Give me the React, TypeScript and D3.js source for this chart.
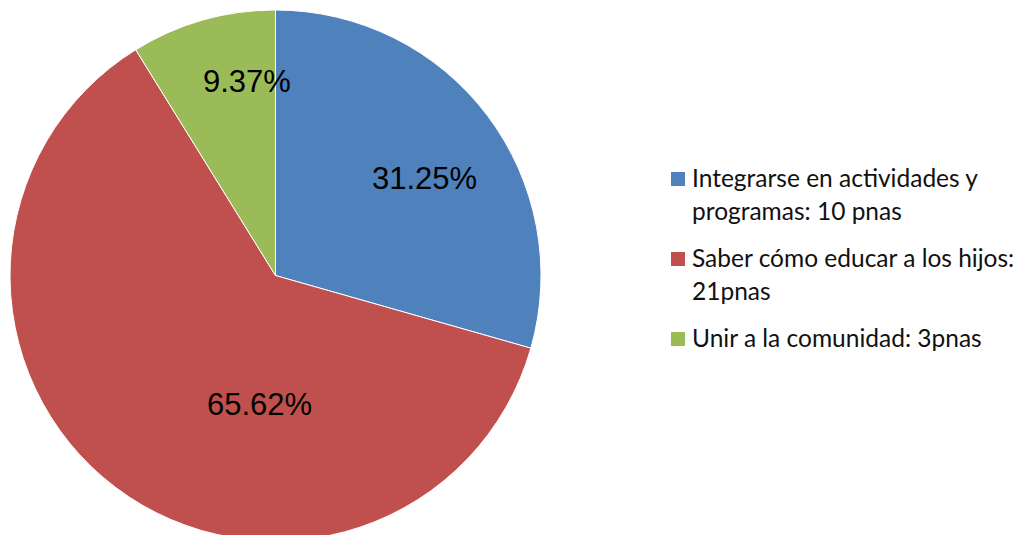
import * as d3 from "d3";
import React from "react";

// categories + values (number of people), and the percentage labels as printed
const categories = ["Integrarse en actividades y programas: 10 pnas", "Saber cómo educar a los hijos: 21pnas", "Unir a la comunidad: 3pnas"];
const legendLines = [
  ["Integrarse en actividades y", "programas: 10 pnas"],
  ["Saber cómo educar a los hijos:", "21pnas"],
  ["Unir a la comunidad: 3pnas"],
];
const values = [10, 21, 3];
const pctLabels = ["31.25%", "65.62%", "9.37%"];
const colors = ["#4F81BD", "#C0504D", "#9BBB59"];

const W = 1030, H = 535;
const cx = 275.5, cy = 275.5, R = 265.5;

// label nudges (Excel "best fit" doesn't sit on the centroid)
const labelPos = [
  { r: 0.67, da: 4 },
  { r: 0.49, da: -30 },
  { r: 0.74, da: 7.5 },
];

export default function App() {
  const pie = d3.pie<number>().sort(null).value((d) => d);
  const arcs = pie(values);
  const arc = d3.arc<d3.PieArcDatum<number>>().innerRadius(0).outerRadius(R);

  const legendX = 671;
  let y = 172;
  const legend = legendLines.map((lines, i) => {
    const top = y;
    y += lines.length * 33 + 14;
    return { lines, top, i };
  });

  return (
    <div style={{ position: "fixed", left: 0, top: 0 }}>
      <svg width={W} height={H} viewBox={`0 0 ${W} ${H}`} style={{ display: "block", background: "#fff" }}>
        <g transform={`translate(${cx},${cy})`}>
          {arcs.map((a, i) => (
            <path key={categories[i]} d={arc(a) || ""} fill={colors[i]} stroke="#fff" strokeWidth={1} />
          ))}
          {arcs.map((a, i) => {
            const mid = (a.startAngle + a.endAngle) / 2 + (labelPos[i].da * Math.PI) / 180;
            const r = R * labelPos[i].r;
            return (
              <text
                key={pctLabels[i]}
                x={Math.sin(mid) * r}
                y={-Math.cos(mid) * r}
                dy="0.35em"
                textAnchor="middle"
                fontFamily="'Liberation Sans', Arial, sans-serif"
                fontSize={31}
                fill="#000"
              >
                {pctLabels[i]}
              </text>
            );
          })}
        </g>
        {legend.map(({ lines, top, i }) => (
          <g key={categories[i]}>
            <rect x={legendX} y={top} width={14} height={14} fill={colors[i]} />
            {lines.map((t, j) => (
              <text
                key={t}
                x={legendX + 21}
                y={top + 14.5 + j * 33}
                fontFamily="Lato, sans-serif"
                fontSize={24.5}
                fill="#111"
              >
                {t}
              </text>
            ))}
          </g>
        ))}
      </svg>
    </div>
  );
}
